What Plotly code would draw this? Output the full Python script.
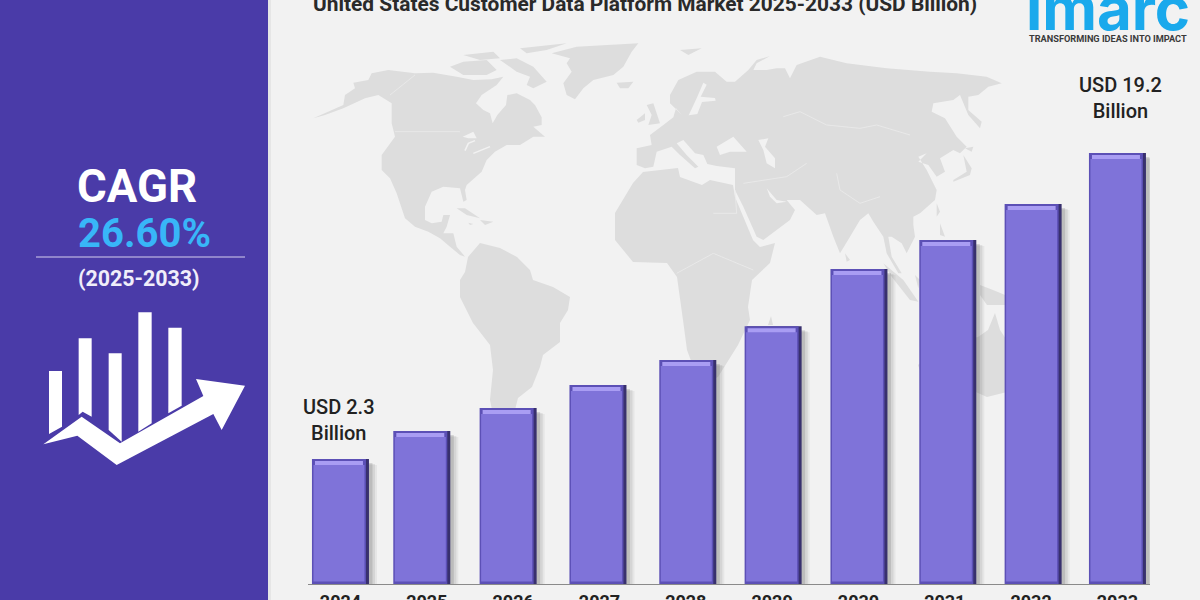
import plotly.graph_objects as go

# Chart data
years = ['2024', '2025', '2026', '2027', '2028', '2029', '2030', '2031', '2032', '2033']
market_size = [2.3, 3.85, 5.12, 6.39, 7.77, 9.64, 12.79, 14.39, 16.38, 19.2]
callout_years = ['2024', '2033']
callout_labels = ['USD 2.3<br>Billion', 'USD 19.2<br>Billion']

title_text = 'United States Customer Data Platform Market 2025-2033 (USD Billion)'

# Colours
bg_color = '#F2F2F2'
panel_color = '#4A3BA8'
land_color = '#DDDDDD'
bar_body = '#7F73D9'
bar_bevel = '#A99DF3'
bar_edge = '#5C50B6'
bar_dark = '#38306E'

W, H = 1200, 600
M_L, M_R, M_T, M_B = 308, 50, 0, 16

# Axis scale (pixels per USD bn, and where the drawn axis sits)
px_per_unit = 18.107
y_floor = -4.6
y_top = 27.65
cat_step = 86.33
bar_w = 57
# bars in the picture are not evenly spaced, px shift per bar
nudge_px = [0, -5, -5, -1.5, 2, 1, 0.5, 3, 2, 0]
# px offsets of the two callouts from their bars
callout_dx = [-1.5, 3.5]
callout_dy = [12, 28]


def px(x, y):
    # plotly's paper coords run over the plot area, not the whole figure
    return (x - M_L) / (W - M_L - M_R), 1 - (y - M_T) / (H - M_T - M_B)


def poly(points, fill=land_color, zoom=None):
    # points are image pixels, or 3x crop coords when zoom=(x0, y0) is given
    if zoom:
        points = [(zoom[0] + a / 3, zoom[1] + b / 3) for a, b in points]
    parts = []
    for i, (a, b) in enumerate(points):
        xp, yp = px(a, b)
        parts.append(('M' if i == 0 else 'L') + f'{xp:.5f},{yp:.5f}')
    return dict(type='path', path=' '.join(parts) + ' Z', xref='paper', yref='paper',
                fillcolor=fill, line=dict(width=0), layer='below')


def stroke(points, color='#EBEBEB', width=0.8, zoom=None):
    if zoom:
        points = [(zoom[0] + a / 3, zoom[1] + b / 3) for a, b in points]
    parts = []
    for i, (a, b) in enumerate(points):
        xp, yp = px(a, b)
        parts.append(('M' if i == 0 else 'L') + f'{xp:.5f},{yp:.5f}')
    return dict(type='path', path=' '.join(parts), xref='paper', yref='paper',
                line=dict(width=width, color=color), layer='below')


Z8 = (300, 30)
Z9 = (620, 40)

# World map outline, traced by hand
north_america = [
    (40, 265), (130, 225), (135, 195), (165, 175), (160, 158), (205, 150), (215, 130), (265, 120),
    (345, 130), (400, 128), (470, 140), (520, 150), (575, 148), (610, 140), (590, 165), (545, 195),
    (528, 220), (550, 240), (570, 250), (578, 280), (592, 255), (618, 225), (622, 195), (650, 190),
    (690, 210), (705, 225), (725, 262), (725, 285), (700, 290), (735, 320), (700, 320), (660, 345),
    (620, 345), (585, 365), (560, 390), (545, 425), (500, 465), (495, 480), (500, 510), (490, 515),
    (480, 475), (430, 470), (395, 485), (375, 530), (375, 570), (395, 580), (425, 575), (430, 555),
    (450, 555), (440, 590), (430, 610), (460, 610), (470, 650), (495, 680), (480, 675), (450, 650),
    (420, 625), (385, 605), (345, 590), (315, 565), (290, 490), (270, 445), (245, 420), (245, 375),
    (285, 320), (275, 280), (275, 220), (235, 195), (195, 205), (130, 235), (75, 255),
]
arctic_1 = [(450, 110), (490, 95), (560, 90), (590, 120), (560, 135), (490, 135)]
arctic_2 = [(490, 75), (580, 65), (600, 85), (540, 90)]
arctic_3 = [(660, 55), (800, 40), (740, 60), (680, 70)]
arctic_4 = [(600, 90), (650, 85), (700, 110), (740, 155), (700, 175), (680, 165), (690, 140), (650, 125)]
greenland = [
    (755, 70), (830, 50), (1015, 40), (995, 65), (970, 110), (940, 135), (880, 150), (850, 175),
    (825, 208), (800, 195), (790, 160), (815, 125), (800, 100), (810, 85),
]
iceland = [(950, 158), (1000, 155), (985, 175), (960, 175)]
cuba = [(470, 535), (495, 535), (540, 565), (500, 555)]
hispaniola = [(540, 570), (580, 575), (555, 585)]
jamaica = [(505, 578), (520, 582), (510, 585)]
south_america = [
    (468, 257), (480, 243), (500, 248), (517, 257), (530, 270), (533, 280), (553, 287), (570, 297),
    (568, 310), (560, 323), (560, 342), (543, 355), (540, 367), (532, 387), (518, 398), (515, 410),
    (492, 410), (490, 400), (493, 370), (490, 345), (473, 323), (460, 297), (460, 280), (465, 272),
]
eurasia = [
    (150, 165), (175, 120), (230, 95), (285, 95), (320, 125), (345, 125), (385, 90), (440, 90),
    (470, 85), (495, 85), (510, 115), (530, 75), (600, 50), (680, 70), (800, 85), (930, 95),
    (1010, 100), (1100, 110), (1145, 130), (1105, 140), (1075, 165), (1045, 170), (1045, 210),
    (1085, 245), (1080, 265), (1045, 225), (1020, 165), (1000, 180), (940, 190), (935, 215),
    (975, 235), (1010, 290), (1040, 320), (1020, 340), (1000, 330), (960, 355), (975, 395),
    (950, 410), (925, 375), (895, 365), (920, 340), (895, 350), (920, 390), (950, 450), (945, 480),
    (900, 520), (880, 530), (880, 555), (885, 590), (860, 640), (845, 610), (815, 590), (805, 590),
    (815, 650), (845, 700), (835, 700), (800, 640), (790, 590), (760, 545), (745, 520), (720, 540),
    (690, 590), (660, 640), (640, 590), (615, 520), (590, 525), (540, 480), (500, 480), (525, 510),
    (510, 540), (430, 600), (410, 590), (370, 500), (345, 450), (345, 405), (345, 385), (290, 378),
    (262, 372), (250, 345), (225, 340), (190, 300), (170, 310), (200, 345), (235, 380), (225, 385),
    (180, 345), (155, 320), (110, 335), (100, 380), (75, 385), (50, 375), (50, 325), (95, 315),
    (90, 285), (130, 255), (160, 232), (168, 205), (185, 224), (150, 190),
]
baltic = [
    (250, 128), (260, 134), (242, 170), (285, 174), (287, 182), (246, 186), (232, 222), (206, 226),
    (216, 205), (232, 170),
]
caspian = [(415, 300), (445, 295), (435, 320), (465, 355), (465, 385), (440, 370), (430, 330)]
black_sea = [(290, 320), (340, 290), (380, 335), (330, 335), (300, 345)]
persian_gulf = [(440, 445), (470, 480), (500, 485), (470, 490), (450, 470)]
africa = [
    (615, 213), (633, 183), (643, 172), (678, 168), (680, 177), (702, 185), (710, 180), (733, 185),
    (735, 197), (753, 240), (760, 247), (775, 243), (770, 263), (752, 280), (748, 307), (750, 320),
    (738, 345), (733, 353), (718, 377), (700, 385), (690, 358), (687, 350), (683, 320), (677, 277),
    (667, 263), (633, 262), (615, 240),
]
uk = [(80, 195), (100, 190), (120, 250), (85, 255), (95, 225)]
ireland = [(50, 240), (75, 220), (75, 240), (55, 248)]
sri_lanka = [(675, 640), (690, 660), (680, 665)]
novaya = [(385, 90), (410, 60), (450, 48), (410, 70), (400, 90)]
svalbard = [(180, 30), (245, 25), (205, 45)]
japan = [(1000, 420), (1040, 395), (1030, 345), (1055, 385), (1050, 405), (1000, 425)]
hokkaido = [(1035, 325), (1060, 320), (1055, 335)]
luzon = [(950, 490), (960, 515), (950, 530)]
mindanao = [(960, 550), (975, 590), (960, 585)]
sumatra = [(790, 670), (850, 720), (895, 785), (870, 780), (815, 710)]
borneo = [(885, 705), (900, 720), (895, 745)]
new_guinea = [(980, 285), (993, 290), (1010, 297), (1010, 305), (987, 305), (980, 295)]
australia = [
    (918, 365), (940, 345), (978, 337), (988, 330), (995, 313), (1000, 330), (1010, 345),
    (1020, 370), (1015, 390), (987, 397), (960, 385), (925, 385),
]
madagascar = [(768, 325), (771, 316), (773, 325)]

panel_x0, _ = px(0, 0)
shapes = [
    dict(type='rect', xref='paper', yref='paper', x0=panel_x0, x1=px(271, 0)[0], y0=px(0, H)[1], y1=px(0, 0)[1],
         fillcolor='#E6E6E6', line=dict(width=0), layer='below'),
    dict(type='rect', xref='paper', yref='paper', x0=panel_x0, x1=px(268, 0)[0], y0=px(0, H)[1], y1=px(0, 0)[1],
         fillcolor=panel_color, line=dict(width=0), layer='below'),
]
for p in [north_america, arctic_1, arctic_2, arctic_3, arctic_4, greenland, iceland, cuba, hispaniola, jamaica]:
    shapes.append(poly(p, zoom=Z8))
shapes.append(poly(south_america))
shapes.append(poly(africa))
for p in [eurasia, uk, ireland, sri_lanka, novaya, svalbard, japan, hokkaido, luzon, mindanao, sumatra, borneo]:
    shapes.append(poly(p, zoom=Z9))
for p in [new_guinea, australia, madagascar]:
    shapes.append(poly(p))
for p in [baltic, caspian, black_sea, persian_gulf]:
    shapes.append(poly(p, fill=bg_color, zoom=Z9))

# Great lakes and a few faint borders
shapes.append(poly([(488, 320), (520, 305), (530, 325), (505, 325)], fill=bg_color, zoom=Z8))
shapes.append(stroke([(495, 362), (505, 340), (525, 332)], color=bg_color, width=1.5, zoom=Z8))
shapes.append(stroke([(520, 370), (570, 350)], color=bg_color, width=1.5, zoom=Z8))
shapes.append(stroke([(285, 305), (480, 305)], zoom=Z8))
shapes.append(stroke([(270, 195), (345, 135)], zoom=Z8))
shapes.append(stroke([(490, 230), (540, 215), (620, 255), (720, 265), (770, 255), (870, 285)], zoom=Z9))
shapes.append(stroke([(650, 400), (660, 450), (720, 490), (780, 470)], zoom=Z9))
shapes.append(stroke([(370, 430), (500, 410), (560, 370)], zoom=Z9))
shapes.append(stroke([(280, 520), (350, 520), (345, 450)], zoom=Z9))
shapes.append(stroke([(170, 700), (280, 640), (400, 690)], zoom=Z9))

# Side panel icon
Z1 = (0, 140)
icon_parts = [
    [(147, 693), (186, 693), (186, 860), (147, 882)],
    [(236, 595), (275, 595), (275, 830), (248, 815), (236, 825)],
    [(326, 640), (365, 640), (365, 905), (326, 870)],
    [(415, 517), (455, 517), (455, 850), (415, 875)],
    [(505, 563), (545, 563), (545, 797), (505, 820)],
    [(130, 913), (245, 830), (360, 910), (610, 768), (588, 717), (735, 737), (665, 870), (640, 822),
     (350, 975), (232, 887)],
]
for p in icon_parts:
    shapes.append(poly(p, fill='white', zoom=Z1))

# Panel rule
shapes.append(stroke([(36, 257), (245, 257)], color='#D5D0EE', width=1))

fig = go.Figure()


def add_bar_layer(color, left=0.0, right=0.0, top=0.0, bottom=0.0):
    # left/right/top/bottom are pixel insets from the bar's own edges
    width = (bar_w - left - right) / cat_step
    offsets = [(-bar_w / 2 + left + n) / cat_step for n in nudge_px]
    base = y_floor + bottom / px_per_unit
    heights = [v - top / px_per_unit - base for v in market_size]
    fig.add_trace(go.Bar(
        x=years, y=heights, base=base, width=width, offset=offsets,
        marker=dict(color=color, line=dict(width=0)),
        hoverinfo='skip', showlegend=False,
    ))


# soft shadow, dark frame, then face and top bevel
add_bar_layer('rgba(90,90,90,0.07)', left=8, right=-8, top=6)
add_bar_layer('rgba(90,90,90,0.12)', left=8, right=-6, top=5)
add_bar_layer('rgba(90,90,90,0.20)', left=8, right=-3.5, top=4)
add_bar_layer(bar_dark, left=2, top=0)
add_bar_layer(bar_edge, right=3, top=0)
add_bar_layer(bar_bevel, left=3, right=6, top=2, bottom=3)
add_bar_layer(bar_body, left=1.5, right=4.5, top=6, bottom=2.5)

annotations = []


def add_text(text, x, y, size, color='#222222', weight=700, family='Roboto', anchor='center', vanchor='middle'):
    xp, yp = px(x, y)
    annotations.append(dict(
        text=text, x=xp, y=yp, xref='paper', yref='paper', showarrow=False,
        xanchor=anchor, yanchor=vanchor, align='center',
        font=dict(size=size, color=color, family=family, weight=weight),
    ))


add_text(title_text, 645, 4, 20.9, color='#2A2A2A')
add_text('CAGR', 137, 186, 45.5, color='white')
add_text('26.60%', 144, 233, 40, color='#38B6F8')
add_text('(2025-2033)', 139, 278, 21.4, color='#F0EEFA')
add_text('imarc', 1108, 8, 60, color='#1AA9EC', family='Inter')
add_text('TRANSFORMING IDEAS INTO IMPACT', 1108, 39, 9.2, color='#3A3A3A')

# Value callouts sit on their bars, through the chart's axes
for k, lab in enumerate(callout_labels):
    i = years.index(callout_years[k])
    annotations.append(dict(
        text=lab, x=i, y=market_size[i], xref='x', yref='y', showarrow=False,
        xanchor='center', yanchor='bottom', yshift=callout_dy[k], xshift=callout_dx[k],
        align='center', font=dict(size=20, color='#222222', family='Roboto', weight=500),
    ))

fig.update_layout(
    width=W, height=H,
    margin=dict(l=M_L, r=M_R, t=M_T, b=M_B, pad=0),
    paper_bgcolor=bg_color,
    plot_bgcolor='rgba(0,0,0,0)',
    barmode='overlay',
    showlegend=False,
    shapes=shapes,
    annotations=annotations,
    xaxis=dict(
        type='category', categoryorder='array', categoryarray=years,
        range=[-0.376, 9.377], fixedrange=True, automargin=False,
        showgrid=False, zeroline=False, showline=True, linecolor='#8A8A8A', linewidth=1,
        ticks='outside', ticklen=1, tickcolor='rgba(0,0,0,0)',
        tickfont=dict(size=18, color='#222222', family='Roboto', weight=700),
    ),
    yaxis=dict(
        range=[y_floor, y_top], fixedrange=True, automargin=False,
        showgrid=False, zeroline=False, showticklabels=False, showline=False,
    ),
)

fig.write_html(
    "out.html",
    config=dict(displayModeBar=False),
    post_script="document.body.style.margin='0';document.documentElement.style.overflow='hidden';",
)
